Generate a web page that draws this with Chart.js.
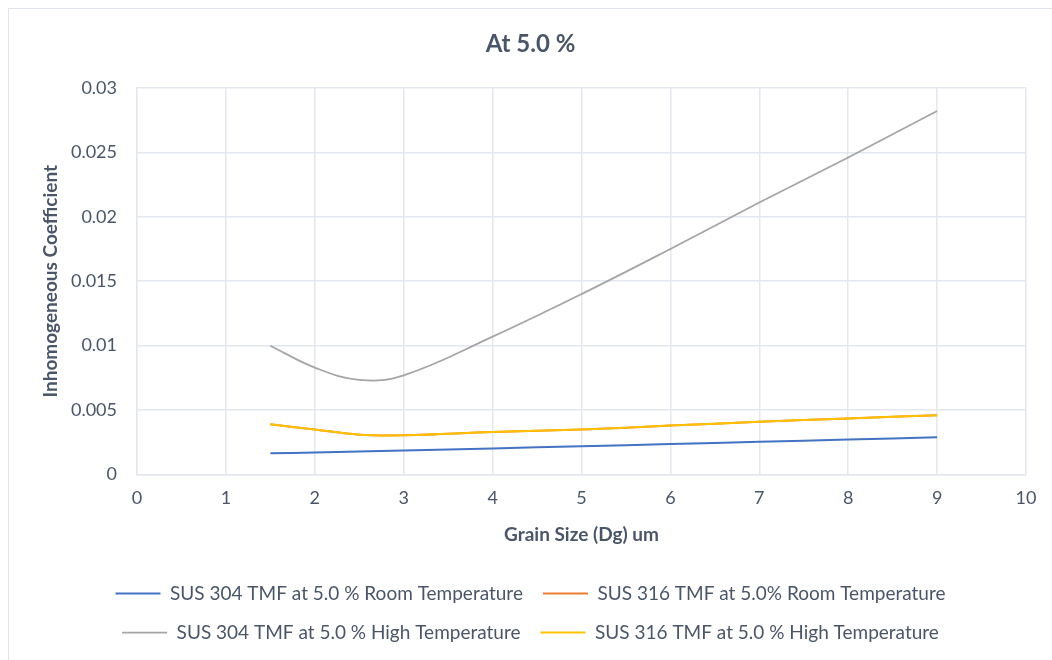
<!DOCTYPE html>
<html>
<head>
<meta charset="utf-8">
<script src="https://cdn.jsdelivr.net/npm/chart.js@4.4.0/dist/chart.umd.min.js"></script>
<style>
  html, body { margin: 0; padding: 0; background: #fff; overflow: hidden; }
  #wrap { position: relative; width: 1052px; height: 660px; }
  #frame { position: absolute; left: 8px; top: 8px; width: 1100px; height: 700px; border: 1px solid #dfe4ea; }
  canvas { position: absolute; left: 0; top: 0; }
</style>
</head>
<body>
<div id="wrap">
  <div id="frame"></div>
  <canvas id="canvas1" width="1052" height="660"></canvas>
</div>
<script>
// grain size (Dg) in um
var grainSizes = [1.5, 2, 2.5, 3, 4, 5, 6, 7, 8, 9];

var sus304Room = [0.00165, 0.00172, 0.0018, 0.00187, 0.00203, 0.0022, 0.00237, 0.00255, 0.00272, 0.0029];
var sus316Room = [0.0039, 0.0035, 0.0031, 0.00305, 0.0033, 0.0035, 0.0038, 0.0041, 0.00436, 0.0046];
var sus304High = [0.0100, 0.0083, 0.00735, 0.0077, 0.0107, 0.0140, 0.0175, 0.0211, 0.0246, 0.0282];
var sus316High = [0.0039, 0.0035, 0.0031, 0.00305, 0.0033, 0.0035, 0.0038, 0.0041, 0.00436, 0.0046];

var labels = [
  "SUS 304 TMF at 5.0 % Room Temperature",
  "SUS 316 TMF at 5.0% Room Temperature",
  "SUS 304 TMF at 5.0 % High Temperature",
  "SUS 316 TMF at 5.0 % High Temperature"
];
var colors = ["#4472c4", "#ed7d31", "#a5a5a5", "#ffc000"];

var textColor = "#4a5668";
var gridColor = "#e3e7ee";
var fontFam = "Lato, 'Open Sans', sans-serif";

function toPoints(vals) {
  return grainSizes.map((x, i) => ({ x: x, y: vals[i] }));
}

var seriesList = [sus304Room, sus316Room, sus304High, sus316High];
var datasets = seriesList.map((vals, i) => ({
  label: labels[i],
  data: toPoints(vals),
  borderColor: colors[i],
  backgroundColor: colors[i],
  borderWidth: i === 2 ? 1.75 : 2,
  pointRadius: 0,
  showLine: true,
  tension: 0.4,
  // yellow sits on top of orange like in the original
  order: i === 3 ? -1 : i
}));

var config = {
  type: "scatter",
  data: { datasets: datasets },
  options: {
    responsive: false,
    animation: false,
    layout: { padding: { left: 35, right: 26, top: 20, bottom: 8 } },
    plugins: {
      title: {
        display: true,
        text: "At 5.0 %",
        color: textColor,
        font: { family: fontFam, size: 24, weight: "bold" },
        padding: { top: 10, bottom: 29 }
      },
      legend: {
        position: "bottom",
        labels: {
          color: textColor,
          font: { family: fontFam, size: 19 },
          usePointStyle: true,
          pointStyle: "line",
          pointStyleWidth: 45,
          padding: 20,
          sort: (a, b) => a.datasetIndex - b.datasetIndex
        }
      },
      tooltip: { enabled: false }
    },
    scales: {
      x: {
        type: "linear",
        min: 0,
        max: 10,
        ticks: { stepSize: 1, color: textColor, font: { family: fontFam, size: 18 }, padding: 13 },
        grid: { color: gridColor, lineWidth: 1.5, drawTicks: false },
        border: { color: gridColor, width: 1.5 },
        title: {
          display: true,
          text: "Grain Size (Dg) um",
          color: textColor,
          font: { family: fontFam, size: 19, weight: "bold" },
          padding: { top: 1, bottom: 18 }
        }
      },
      y: {
        min: 0,
        max: 0.03,
        afterFit: (scale) => { scale.width = 102; },
        ticks: {
          stepSize: 0.005,
          color: textColor,
          font: { family: fontFam, size: 18 },
          padding: 20,
          callback: (v) => String(+v.toFixed(3))
        },
        grid: { color: gridColor, lineWidth: 1.5, drawTicks: false },
        border: { color: gridColor, width: 1.5 },
        title: {
          display: true,
          text: "Inhomogeneous Coefficient",
          color: textColor,
          font: { family: fontFam, size: 19, weight: "bold" },
          padding: { top: 4, bottom: 0 }
        }
      }
    }
  }
};

var chart = new Chart(document.getElementById("canvas1"), config);
</script>
</body>
</html>
